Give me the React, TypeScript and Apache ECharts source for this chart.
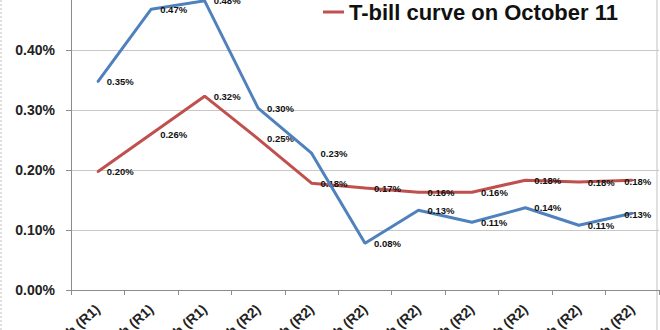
import React, { useEffect, useRef } from "react";
import * as echarts from "echarts";

const categories = [
  "1 month (R1)",
  "2 month (R1)",
  "3 month (R1)",
  "4 month (R2)",
  "5 month (R2)",
  "6 month (R2)",
  "7 month (R2)",
  "8 month (R2)",
  "9 month (R2)",
  "10 month (R2)",
  "11 month (R2)",
];

const earlierCurve = [0.347, 0.468, 0.482, 0.303, 0.228, 0.078, 0.133, 0.113, 0.137, 0.108, 0.128];
const october11Curve = [0.197, 0.26, 0.323, 0.252, 0.178, 0.17, 0.163, 0.163, 0.183, 0.18, 0.183];

const yTicks = { min: 0, max: 0.5, interval: 0.1 };

const FONT = "Liberation Sans";

function withEndLabelShift(values: number[]) {
  return values.map((v, i) =>
    i === values.length - 1
      ? { value: v, label: { position: [-7, -3], offset: [0, 0], distance: 0 } }
      : { value: v }
  );
}

export default function App() {
  const ref = useRef<HTMLDivElement>(null);

  useEffect(() => {
    if (!ref.current) return;
    const chart = echarts.init(ref.current, undefined, { renderer: "svg" });
    const labelCfg = {
      show: true,
      position: "right" as const,
      distance: 8,
      offset: [0, 2],
      fontFamily: FONT,
      fontSize: 9.5,
      fontWeight: "bold" as const,
      color: "#111",
      formatter: (p: any) => Number(p.value).toFixed(2) + "%",
    };
    chart.setOption({
      animation: false,
      backgroundColor: "#ffffff",
      textStyle: { fontFamily: FONT },
      grid: {
        left: 71,
        right: 1,
        top: -10,
        bottom: 40,
        show: false,
        containLabel: false,
        outerBoundsMode: "none",
      },
      legend: {
        data: ["T-bill curve on October 11"],
        left: 318,
        top: -4,
        icon: "rect",
        itemWidth: 21,
        itemHeight: 3,
        textStyle: { fontFamily: FONT, fontSize: 22, fontWeight: "bold", color: "#111" },
      },
      xAxis: {
        type: "category",
        data: categories,
        boundaryGap: true,
        axisLine: { lineStyle: { color: "#8c8c8c" } },
        axisTick: { show: true, alignWithLabel: false, length: 5, lineStyle: { color: "#8c8c8c" } },
        axisLabel: {
          rotate: 42,
          margin: 17,
          interval: 0,
          fontFamily: FONT,
          fontSize: 14,
          fontWeight: "bold",
          color: "#222",
        },
      },
      yAxis: {
        type: "value",
        min: yTicks.min,
        max: yTicks.max,
        interval: yTicks.interval,
        axisLine: { show: true, lineStyle: { color: "#8c8c8c" } },
        axisTick: { show: true, length: 5, lineStyle: { color: "#8c8c8c" } },
        splitLine: { lineStyle: { color: "#c8c8c8" } },
        axisLabel: {
          margin: 16,
          fontFamily: FONT,
          fontSize: 14,
          fontWeight: "bold",
          color: "#222",
          formatter: (v: number) => v.toFixed(2) + "%",
        },
      },
      graphic: [
        {
          type: "line",
          shape: { x1: 1, y1: 0, x2: 1, y2: 330 },
          style: { stroke: "#c0c0c0", lineWidth: 1, lineDash: [2, 2] },
        },
        {
          type: "line",
          shape: { x1: 657, y1: 0, x2: 657, y2: 330 },
          style: { stroke: "#c0c0c0", lineWidth: 1 },
        },
      ],
      series: [
        {
          name: "Earlier T-bill curve",
          type: "line",
          data: withEndLabelShift(earlierCurve),
          showSymbol: true,
          symbol: "circle",
          symbolSize: 2,
          lineStyle: { color: "#4F81BD", width: 3 },
          itemStyle: { color: "#4F81BD" },
          label: labelCfg,
          labelLayout: { hideOverlap: false },
          z: 3,
        },
        {
          name: "T-bill curve on October 11",
          type: "line",
          data: withEndLabelShift(october11Curve),
          showSymbol: true,
          symbol: "circle",
          symbolSize: 2,
          lineStyle: { color: "#C0504D", width: 3 },
          itemStyle: { color: "#C0504D" },
          label: labelCfg,
          labelLayout: { hideOverlap: false },
          z: 2,
        },
      ],
    });
    return () => chart.dispose();
  }, []);

  return (
    <div
      ref={ref}
      style={{ position: "fixed", left: 0, top: 0, width: 660, height: 330 }}
    />
  );
}
